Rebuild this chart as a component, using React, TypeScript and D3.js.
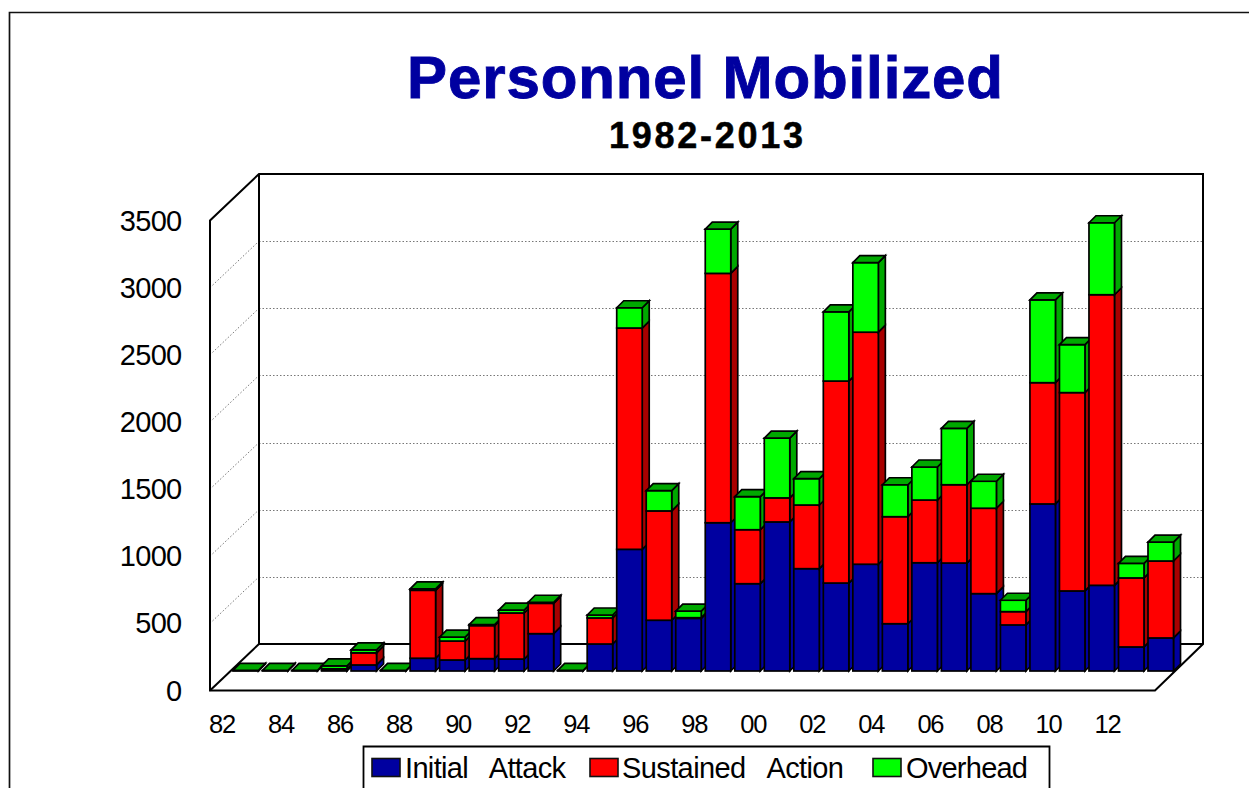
import React from "react";
import * as d3 from "d3";

const years = ["82","83","84","85","86","87","88","89","90","91","92","93","94","95","96","97","98","99","00","01","02","03","04","05","06","07","08","09","10","11","12","13"];
const initialAttack = [0,0,0,8,45,0,95,82,92,89,278,0,201,906,378,392,1104,650,1110,762,655,795,352,806,804,576,343,1244,596,638,179,246];
const sustainedAction = [0,0,0,8,90,0,506,141,246,343,226,0,194,1648,814,5,1857,402,179,474,1504,1728,797,467,583,636,99,903,1477,2164,514,573];
const overhead = [5,5,5,22,22,5,10,30,8,22,8,5,22,151,151,49,330,246,445,196,516,518,238,246,420,201,85,616,357,536,109,141];
const yTicks = [0,500,1000,1500,2000,2500,3000,3500];
const xTickLabels = ["82","84","86","88","90","92","94","96","98","00","02","04","06","08","10","12"];

const seriesNames = ["Initial   Attack","Sustained   Action","Overhead"];
const frontColors = ["#0000A0","#FF0000","#00FF00"];
const sideColors = ["#0000A0","#A80000","#00A800"];

const depthX = 49;
const barDepth = 7, barWidth = 25.5;
const x = d3.scaleLinear().domain([0, 31]).range([233, 1148]);
const yBack = d3.scaleLinear().domain([0, 3500]).range([644, 174]);
const yFront = d3.scaleLinear().domain([0, 3500]).range([690.5, 220.5]);
const yBar = d3.scaleLinear().domain([0, 3500]).range([671, 201]);
const leftBack = 259, rightBack = 1203;
const leftFront = leftBack - depthX, rightFront = rightBack - depthX + 1;

const stack = d3.stack<number>().keys(["0","1","2"]).value((i, k) => [initialAttack, sustainedAction, overhead][+k][i]);
const stacked = stack(d3.range(years.length));
const poly = (pts: [number, number][]) => d3.line()(pts) + "Z";

const font = "'Liberation Sans', Arial, sans-serif";
const S = "#000";

export default function App() {
  return (
    <svg width={1249} height={788} viewBox="0 0 1249 788" style={{ position: "absolute", left: 0, top: 0, display: "block", background: "#fff" }} fontFamily={font}>
      <path d="M9.5 788V12.5H1249" fill="none" stroke="#111" strokeWidth={1.7} />

      <text x={705} y={98} textAnchor="middle" fontSize={60} fontWeight={700} fill="#0000A0" stroke="#0000A0" strokeWidth={0.9} textLength={596} lengthAdjust="spacing">Personnel Mobilized</text>
      <text x={706} y={148} textAnchor="middle" fontSize={36} fontWeight={700} fill="#000" stroke="#000" strokeWidth={0.5} textLength={194} lengthAdjust="spacing">1982-2013</text>

      {yTicks.slice(1, -1).map(t => (
        <g key={t} fill="none" stroke="#777" strokeWidth={1} strokeDasharray="1.5 2">
          <line x1={leftBack} x2={rightBack} y1={Math.round(yBack(t)) + 0.5} y2={Math.round(yBack(t)) + 0.5} />
          <line x1={leftFront} y1={yFront(t)} x2={leftBack} y2={yBack(t)} />
        </g>
      ))}
      <g fill="none" stroke={S} strokeWidth={2}>
        <path d={`M${leftFront} ${yFront(3500)}V${yFront(0)}H${rightFront}L${rightBack} ${yBack(0)}V${yBack(3500)}H${leftBack}Z`} />
        <path d={`M${leftBack} ${yBack(3500)}V${yBack(0)}H${rightBack}`} />
        <path d={`M${leftFront} ${yFront(0)}L${leftBack} ${yBack(0)}`} />
      </g>

      {yTicks.map(t => (
        <text key={t} x={181.5} y={yFront(t) + 10} textAnchor="end" fontSize={29} letterSpacing={-0.7} fill="#000">{t}</text>
      ))}
      {xTickLabels.map((l, i) => (
        <text key={i} x={x(i * 2) - 11} y={733} textAnchor="middle" fontSize={25.5} letterSpacing={-1.2} fill="#000">{l}</text>
      ))}

      {years.map((yr, i) => {
        const bx = x(i);
        const totalTop = yBar(stacked[2][i][1]);
        return (
          <g key={yr} stroke={S} strokeWidth={1.7} strokeLinejoin="miter">
            {stacked.map((s, k) => {
              const [v0, v1] = s[i];
              if (v1 <= v0) return null;
              const y0 = yBar(v0), y1 = yBar(v1);
              return (
                <g key={k}>
                  <path fill={sideColors[k]} d={poly([[bx + barWidth, y0], [bx + barWidth + barDepth, y0 - barDepth], [bx + barWidth + barDepth, y1 - barDepth], [bx + barWidth, y1]])} />
                  <rect x={bx} y={y1} width={barWidth} height={y0 - y1} fill={frontColors[k]} />
                </g>
              );
            })}
            <path fill={sideColors[2]} d={poly([[bx, totalTop], [bx + barDepth, totalTop - barDepth], [bx + barWidth + barDepth, totalTop - barDepth], [bx + barWidth, totalTop]])} />
          </g>
        );
      })}

      <path d="M363.5 788V746.5H1049.5V788" fill="#fff" stroke={S} strokeWidth={1.8} />
      {[372, 590, 873].map((lx, k) => (
        <rect key={k} x={lx} y={758.5} width={28} height={18} fill={frontColors[k]} stroke="#111" strokeWidth={1.6} />
      ))}
      {[405, 622, 906].map((lx, k) => (
        <text key={k} x={lx} y={778} fontSize={29} fill="#000" xmlSpace="preserve" textLength={[161, 222, 122][k]} lengthAdjust="spacing">{seriesNames[k]}</text>
      ))}
    </svg>
  );
}
